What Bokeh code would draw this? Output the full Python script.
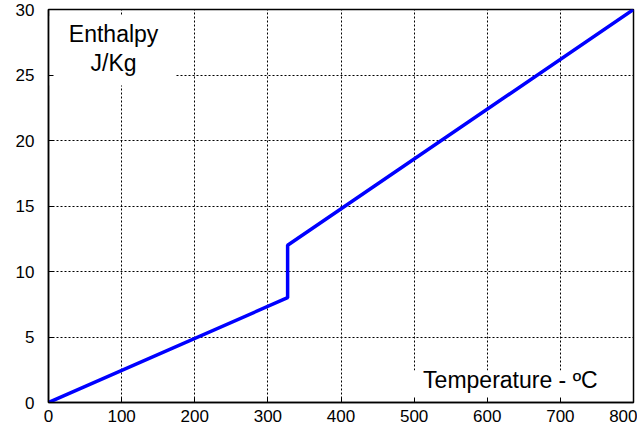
from bokeh.plotting import figure
from bokeh.models import Range1d, Label, BoxAnnotation, FixedTicker
from bokeh.embed import file_html
from bokeh.resources import INLINE

# Data
temperature = [0, 327, 327, 800]
enthalpy = [0, 8, 12, 30]
x_ticks = [0, 100, 200, 300, 400, 500, 600, 700, 800]
y_ticks = [0, 5, 10, 15, 20, 25, 30]
y_label_lines = ["Enthalpy", "J/Kg"]
x_label_text = "Temperature - \u00baC"

FONT = "Liberation Sans"

p = figure(width=637, height=429, output_backend="svg", toolbar_location=None,
           x_range=Range1d(0, 800), y_range=Range1d(0, 30),
           min_border_left=48, min_border_right=4, min_border_top=9, min_border_bottom=27)

p.background_fill_color = "white"
p.border_fill_color = "white"
p.outline_line_color = "black"
p.outline_line_width = 1.5

for ax in (p.xaxis[0], p.yaxis[0]):
    ax.axis_line_color = "black"
    ax.axis_line_width = 1.5
    ax.major_tick_in = 5
    ax.major_tick_out = 0
    ax.minor_tick_line_color = None
    ax.major_label_text_font = FONT
    ax.major_label_text_font_size = "17px"
    ax.major_label_text_color = "black"

p.xaxis[0].ticker = FixedTicker(ticks=x_ticks)
p.yaxis[0].ticker = FixedTicker(ticks=y_ticks)
p.xaxis[0].major_label_standoff = 7
p.yaxis[0].major_label_standoff = 14

for g in (p.xgrid[0], p.ygrid[0]):
    g.grid_line_color = "black"
    g.grid_line_dash = "2 2"
    g.grid_line_width = 1
p.xgrid[0].ticker = FixedTicker(ticks=x_ticks)
p.ygrid[0].ticker = FixedTicker(ticks=y_ticks)

# white boxes behind the annotation texts (drawn above grid, below line and axes)
p.add_layout(BoxAnnotation(left=1.5, right=174, bottom=24.2, top=29.5, level="underlay",
                           fill_color="white", fill_alpha=1.0, line_color=None))
p.add_layout(BoxAnnotation(left=479, right=798, bottom=0.12, top=2.45, level="underlay",
                           fill_color="white", fill_alpha=1.0, line_color=None))

p.line(temperature, enthalpy, line_width=3.5, line_color="#0000ff")

p.add_layout(Label(x=89, y=28.1, text=y_label_lines[0], text_align="center",
                   text_baseline="middle", text_font=FONT, text_font_size="23px",
                   text_color="black"))
p.add_layout(Label(x=89, y=25.9, text=y_label_lines[1], text_align="center",
                   text_baseline="middle", text_font=FONT, text_font_size="23px",
                   text_color="black"))
p.add_layout(Label(x=751, y=1.7, text=x_label_text, text_align="right",
                   text_baseline="middle", text_font=FONT, text_font_size="23px",
                   text_color="black"))

open("out.html", "w").write(file_html(p, INLINE))
